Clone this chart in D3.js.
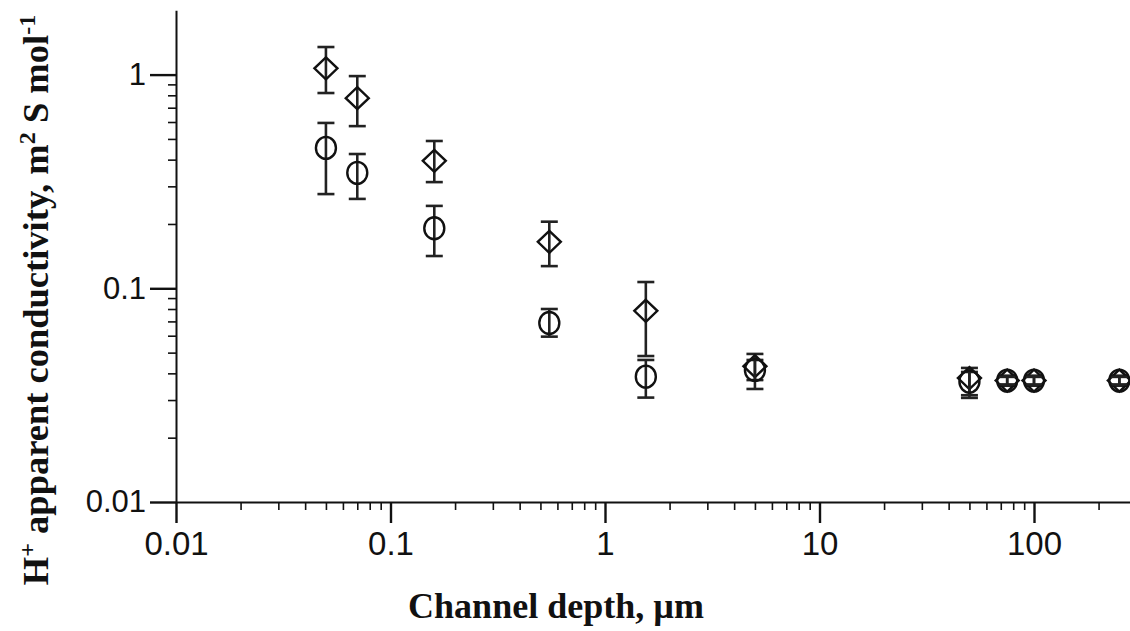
<!DOCTYPE html>
<html>
<head>
<meta charset="utf-8">
<script src="https://cdn.jsdelivr.net/npm/d3@7"></script>
<style>
  body { margin: 0; background: #fff; }
  svg { display: block; }
</style>
</head>
<body>
<div id="chart"></div>
<script>
// channel depth (um)
const depths = [0.05, 0.07, 0.16, 0.55, 1.55, 5, 50, 75, 100, 250];

// diamond series
const diamondVals = [1.07, 0.776, 0.395, 0.165, 0.0785, 0.0432, 0.038, 0.037, 0.037, 0.037];
const diamondLo   = [0.82, 0.574, 0.314, 0.127, 0.0482, 0.0372, 0.0307, 0.035, 0.035, 0.035];
const diamondHi   = [1.346, 0.984, 0.489, 0.205, 0.107, 0.0493, 0.0424, 0.039, 0.039, 0.039];

// circle series
const circleVals = [0.454, 0.347, 0.191, 0.0688, 0.0386, 0.0415, 0.0366, 0.037, 0.037, 0.037];
const circleLo   = [0.276, 0.262, 0.1416, 0.0594, 0.0308, 0.0338, 0.0316, 0.0355, 0.0355, 0.0355];
const circleHi   = [0.594, 0.425, 0.243, 0.080, 0.0462, 0.0462, 0.0406, 0.0385, 0.0385, 0.0385];

const xMajor = [0.01, 0.1, 1, 10, 100];
const yMajor = [0.01, 0.1, 1];
const xLabels = ["0.01", "0.1", "1", "10", "100"];
const yLabels = ["0.01", "0.1", "1"];

const width = 1130;
const height = 631;

const svg = d3.select('#chart')
  .append('svg')
  .attr('width', width)
  .attr('height', height);

const x = d3.scaleLog()
  .domain([0.01, 300])
  .range([176, 176 + 214.5 * Math.log10(30000)]);

const y = d3.scaleLog()
  .domain([0.01, 2])
  .range([502, 502 - 213.7 * Math.log10(200)]);

// minor ticks 2..9 per decade
const xMinor = [];
for (let d = 0.01; d < 300; d *= 10) {
  for (let k = 2; k <= 9; k++) if (d * k < 300) xMinor.push(d * k);
}
const yMinor = [];
for (let d = 0.01; d < 1; d *= 10) {
  for (let k = 2; k <= 9; k++) yMinor.push(d * k);
}

function styleAxis(g, w) {
  g.selectAll('.domain').attr('stroke', '#111').attr('stroke-width', 2);
  g.selectAll('.tick line').attr('stroke', '#111').attr('stroke-width', w);
}

// x axis
svg.append('g')
  .attr('transform', `translate(0,${y(0.01)})`)
  .call(d3.axisBottom(x).tickValues(xMinor).tickSize(8).tickSizeOuter(0).tickFormat(''))
  .call(g => styleAxis(g, 1.6));

svg.append('g')
  .attr('transform', `translate(0,${y(0.01)})`)
  .call(d3.axisBottom(x).tickValues(xMajor).tickSize(21).tickSizeOuter(0)
    .tickFormat((d, i) => xLabels[i]).tickPadding(9))
  .call(g => styleAxis(g, 2.4))
  .call(g => g.select('.domain').remove())
  .call(g => g.selectAll('.tick text')
    .attr('font-family', 'Liberation Sans, Arial, sans-serif')
    .attr('font-size', 33)
    .attr('fill', '#111'));

// y axis
svg.append('g')
  .attr('transform', `translate(${x(0.01)},0)`)
  .call(d3.axisLeft(y).tickValues(yMinor).tickSize(8).tickSizeOuter(0).tickFormat(''))
  .call(g => styleAxis(g, 1.6));

svg.append('g')
  .attr('transform', `translate(${x(0.01)},0)`)
  .call(d3.axisLeft(y).tickValues(yMajor).tickSize(26).tickSizeOuter(0)
    .tickFormat((d, i) => yLabels[i]).tickPadding(4))
  .call(g => styleAxis(g, 2.4))
  .call(g => g.select('.domain').remove())
  .call(g => g.selectAll('.tick text')
    .attr('font-family', 'Liberation Sans, Arial, sans-serif')
    .attr('font-size', 31)
    .attr('fill', '#111'));

// error bars + markers
function drawSeries(vals, lo, hi, shape) {
  const g = svg.append('g');
  const cap = 8.5;
  const idx = d3.range(depths.length);
  g.selectAll('line.bar').data(idx).join('line')
    .attr('x1', i => x(depths[i])).attr('x2', i => x(depths[i]))
    .attr('y1', i => y(lo[i])).attr('y2', i => y(hi[i]))
    .attr('stroke', '#222').attr('stroke-width', 2.6);
  g.selectAll('line.capHi').data(idx).join('line')
    .attr('x1', i => x(depths[i]) - cap).attr('x2', i => x(depths[i]) + cap)
    .attr('y1', i => y(hi[i])).attr('y2', i => y(hi[i]))
    .attr('stroke', '#222').attr('stroke-width', 2.6);
  g.selectAll('line.capLo').data(idx).join('line')
    .attr('x1', i => x(depths[i]) - cap).attr('x2', i => x(depths[i]) + cap)
    .attr('y1', i => y(lo[i])).attr('y2', i => y(lo[i]))
    .attr('stroke', '#222').attr('stroke-width', 2.6);
  if (shape === 'circle') {
    g.selectAll('ellipse').data(idx).join('ellipse')
      .attr('cx', i => x(depths[i])).attr('cy', i => y(vals[i]))
      .attr('rx', 10).attr('ry', 11)
      .attr('fill', 'none').attr('stroke', '#111').attr('stroke-width', 2.4);
  } else {
    g.selectAll('path').data(idx).join('path')
      .attr('d', i => {
        const cx = x(depths[i]), cy = y(vals[i]);
        return `M${cx},${cy - 11}L${cx + 11.5},${cy}L${cx},${cy + 11}L${cx - 11.5},${cy}Z`;
      })
      .attr('fill', 'none').attr('stroke', '#111').attr('stroke-width', 2.4);
  }
}
drawSeries(diamondVals, diamondLo, diamondHi, 'diamond');
drawSeries(circleVals, circleLo, circleHi, 'circle');

// axis titles
svg.append('text')
  .attr('x', 556).attr('y', 618)
  .attr('text-anchor', 'middle')
  .attr('font-family', 'Liberation Serif, Times New Roman, serif')
  .attr('font-weight', 'bold')
  .attr('font-size', 36)
  .attr('fill', '#111')
  .text('Channel depth, \u00b5m');

const yt = svg.append('text')
  .attr('transform', 'translate(48,300) rotate(-90)')
  .attr('text-anchor', 'middle')
  .attr('font-family', 'Liberation Serif, Times New Roman, serif')
  .attr('font-weight', 'bold')
  .attr('font-size', 36.5)
  .attr('fill', '#111');
yt.append('tspan').text('H');
yt.append('tspan').attr('font-size', 24).attr('dy', -13).text('+');
yt.append('tspan').attr('dy', 13).text(' apparent conductivity, m');
yt.append('tspan').attr('font-size', 24).attr('dy', -13).text('2');
yt.append('tspan').attr('dy', 13).text(' S mol');
yt.append('tspan').attr('font-size', 24).attr('dy', -13).text('-1');
</script>
</body>
</html>
